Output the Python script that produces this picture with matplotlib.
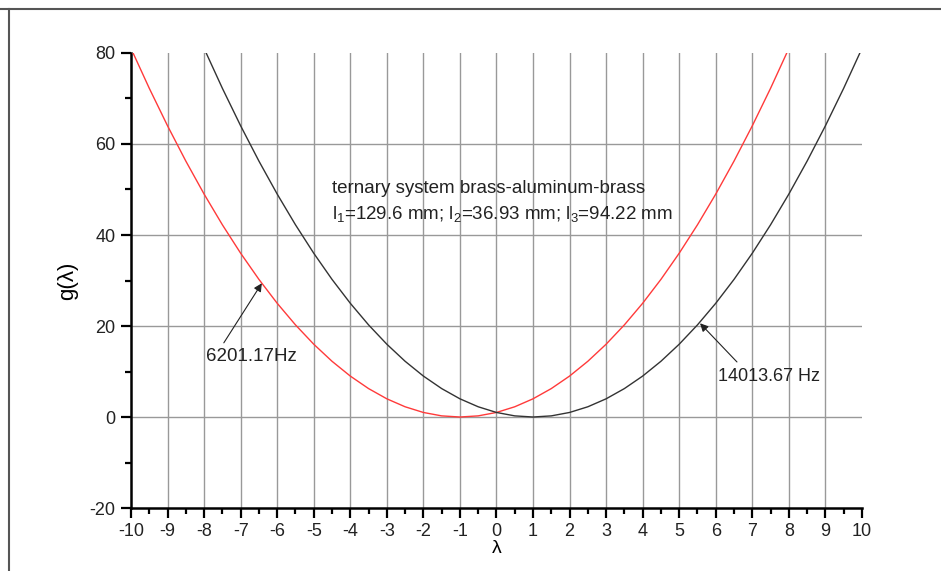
import matplotlib
matplotlib.use("Agg")
import matplotlib.pyplot as plt
from matplotlib.lines import Line2D
from matplotlib.ticker import MultipleLocator

plt.rcParams['font.family'] = ['Liberation Sans', 'DejaVu Sans']
plt.rcParams['axes.unicode_minus'] = False
plt.rcParams['mathtext.fontset'] = 'custom'
plt.rcParams['mathtext.rm'] = 'Liberation Sans'
plt.rcParams['mathtext.it'] = 'Liberation Sans'

# lambda sample points (half steps) and g(lambda) for each frequency
lam_red = [-10.0, -9.5, -9.0, -8.5, -8.0, -7.5, -7.0, -6.5, -6.0, -5.5, -5.0, -4.5,
           -4.0, -3.5, -3.0, -2.5, -2.0, -1.5, -1.0, -0.5, 0.0, 0.5, 1.0, 1.5, 2.0,
           2.5, 3.0, 3.5, 4.0, 4.5, 5.0, 5.5, 6.0, 6.5, 7.0, 7.5, 8.0]
g_red = [81.0, 72.25, 64.0, 56.25, 49.0, 42.25, 36.0, 30.25, 25.0, 20.25, 16.0, 12.25,
         9.0, 6.25, 4.0, 2.25, 1.0, 0.25, 0.0, 0.25, 1.0, 2.25, 4.0, 6.25, 9.0,
         12.25, 16.0, 20.25, 25.0, 30.25, 36.0, 42.25, 49.0, 56.25, 64.0, 72.25, 81.0]

lam_black = [-8.0, -7.5, -7.0, -6.5, -6.0, -5.5, -5.0, -4.5, -4.0, -3.5, -3.0, -2.5,
             -2.0, -1.5, -1.0, -0.5, 0.0, 0.5, 1.0, 1.5, 2.0, 2.5, 3.0, 3.5, 4.0,
             4.5, 5.0, 5.5, 6.0, 6.5, 7.0, 7.5, 8.0, 8.5, 9.0, 9.5, 10.0]
g_black = [81.0, 72.25, 64.0, 56.25, 49.0, 42.25, 36.0, 30.25, 25.0, 20.25, 16.0, 12.25,
           9.0, 6.25, 4.0, 2.25, 1.0, 0.25, 0.0, 0.25, 1.0, 2.25, 4.0, 6.25, 9.0,
           12.25, 16.0, 20.25, 25.0, 30.25, 36.0, 42.25, 49.0, 56.25, 64.0, 72.25, 81.0]

label_red = "6201.17Hz"
label_black = "14013.67 Hz"
title_line1 = "ternary system brass-aluminum-brass"
title_line2 = r"l$_1$=129.6 mm; l$_2$=36.93 mm; l$_3$=94.22 mm"

fig = plt.figure(figsize=(9.41, 5.71), dpi=100)
ax = fig.add_axes([0.1392, 0.1103, 0.9160 - 0.1392, 0.9072 - 0.1103])

ax.set_xlim(-10, 10)
ax.set_ylim(-20, 80)

# grid lines at interior major ticks only
for x in range(-9, 10):
    ax.axvline(x, color='#999999', lw=1.0, zorder=1)
for y in (0, 20, 40, 60):
    ax.axhline(y, color='#999999', lw=1.0, zorder=1)

ax.plot(lam_red, g_red, color='#ff3a3a', lw=1.0, zorder=3)
ax.plot(lam_black, g_black, color='#333333', lw=1.0, zorder=3)

ax.xaxis.set_major_locator(MultipleLocator(1))
ax.xaxis.set_minor_locator(MultipleLocator(0.5))
ax.yaxis.set_major_locator(MultipleLocator(20))
ax.yaxis.set_minor_locator(MultipleLocator(10))

for s in ('top', 'right'):
    ax.spines[s].set_visible(False)
for s in ('left', 'bottom'):
    ax.spines[s].set_linewidth(1.8)
ax.tick_params(which='major', direction='out', length=7.5, width=1.6, labelsize=13,
               colors='black', labelcolor='#222222', pad=3.5)
ax.tick_params(which='minor', direction='out', length=4, width=1.6)

ax.set_xlabel("λ", fontsize=14, labelpad=0)
ax.set_ylabel("g(λ)", fontsize=16, labelpad=8)

ax.text(-4.5, 50.3, title_line1, fontsize=13.5, va='center', ha='left', color='#222222')
ax.text(-4.5, 44.6, title_line2, fontsize=13.5, va='center', ha='left', color='#222222')

arrow = dict(arrowstyle='-|>', color='#222222', lw=0.8, mutation_scale=12,
             shrinkA=0, shrinkB=0)
ax.annotate("", xy=(-6.42, 29.4), xytext=(-7.46, 16.3), arrowprops=arrow, zorder=4)
ax.text(-7.95, 13.4, label_red, fontsize=13.5, va='center', ha='left', color='#222222')
ax.annotate("", xy=(5.57, 20.6), xytext=(6.58, 12.1), arrowprops=arrow, zorder=4)
ax.text(6.06, 8.9, label_black, fontsize=13, va='center', ha='left', color='#222222')

# outer frame (top and left edges)
fig.add_artist(Line2D([0, 1], [1 - 9 / 571, 1 - 9 / 571], color='#555555', lw=1.5,
                      transform=fig.transFigure))
fig.add_artist(Line2D([9 / 941, 9 / 941], [0, 1 - 9 / 571], color='#555555', lw=1.5,
                      transform=fig.transFigure))

fig.savefig("out.png", dpi=100)
